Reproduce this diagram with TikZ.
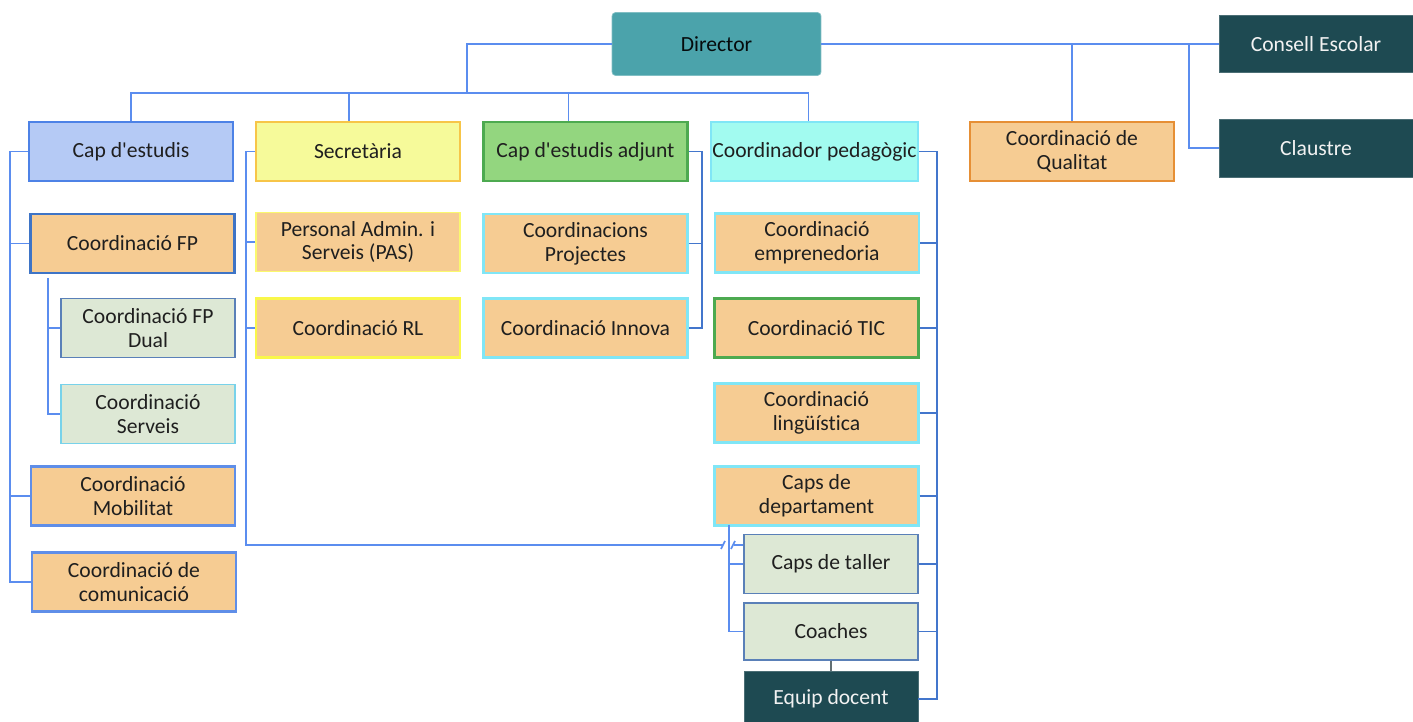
\documentclass[tikz,border=0pt]{standalone}
\usepackage{fontspec}
\setmainfont{Carlito}[Ligatures={TeX,NoCommon}]
\usepackage{xcolor}
\usetikzlibrary{calc}

\definecolor{linkblue}{HTML}{5B8DEF}
\definecolor{trunkblue}{HTML}{4376CC}
\definecolor{tealfill}{HTML}{4BA3AB}
\definecolor{darkteal}{HTML}{1E4A52}
\definecolor{capfill}{HTML}{B5CAF5}
\definecolor{capline}{HTML}{4D82E6}
\definecolor{secfill}{HTML}{F6FA9A}
\definecolor{secline}{HTML}{F7C548}
\definecolor{adjfill}{HTML}{93D67F}
\definecolor{adjline}{HTML}{4DAA50}
\definecolor{pedfill}{HTML}{A2FBF0}
\definecolor{pedline}{HTML}{80E6F6}
\definecolor{orfill}{HTML}{F6CC93}
\definecolor{orline}{HTML}{E68F35}
\definecolor{sagefill}{HTML}{DDE8D5}
\definecolor{sageline}{HTML}{5A80B8}
\definecolor{yelline}{HTML}{F9F74A}
\definecolor{fpline}{HTML}{3E74C6}

\begin{document}
\begin{tikzpicture}[x=0.02cm, y=-0.02cm,
  box/.style={draw, align=center, minimum width=4.08cm, minimum height=1.18cm,
    inner sep=1pt, line width=1.2pt, text=black!88,
    font=\fontsize{12.3}{13.6}\selectfont},
  subbox/.style={box, minimum width=3.48cm, line width=0.8pt},
  darkbox/.style={box, minimum width=3.88cm, minimum height=1.14cm,
    fill=darkteal, draw=darkteal!80!white, line width=0.4pt, text=white!90!gray},
  link/.style={draw=linkblue, line width=1pt},
  trunk/.style={draw=trunkblue, line width=1.1pt}]
% Define common parameters
\useasboundingbox (0,0) rectangle (1413,722);

% Top level
\node[box, minimum width=4.18cm, minimum height=1.26cm, fill=tealfill,
  draw=tealfill!70!white, line width=0.4pt, rounded corners=2pt,
  text=black!85!darkteal] (director) at (716.5,44) {Director};
\node[darkbox] (consell) at (1316,44) {Consell Escolar};
\node[darkbox, minimum height=1.16cm] (claustre) at (1316,148) {Claustre};

% Second level
\node[box, fill=capfill, draw=capline, line width=1.5pt] (capest) at (131,151.5) {Cap d\textquotesingle estudis};
\node[box, fill=secfill, draw=secline] (secret) at (358,151.5) {Secretària};
\node[box, fill=adjfill, draw=adjline] (capadj) at (585.5,151.5) {Cap d\textquotesingle estudis adjunt};
\node[box, fill=pedfill, draw=pedline] (coordped) at (814.5,151.5) {Coordinador pedagògic};
\node[box, fill=orfill, draw=orline] (qualitat) at (1072,151.5) {Coordinació de\\Qualitat};

% Cap d'estudis column
\node[box, fill=orfill, draw=fpline, line width=1.5pt] (coordfp) at (132.5,243.5) {Coordinació FP};
\node[subbox, fill=sagefill, draw=sageline] (fpdual) at (148,328) {Coordinació FP\\Dual};
\node[subbox, fill=sagefill, draw=pedline!80!sageline] (serveis) at (148,414) {Coordinació\\Serveis};
\node[box, fill=orfill, draw=capline!90!white, line width=1.5pt] (mobilitat) at (133,496) {Coordinació\\Mobilitat};
\node[box, fill=orfill, draw=capline!90!white, line width=1.5pt] (comunic) at (134,582) {Coordinació de\\comunicació};

% Secretaria column
\node[box, fill=orfill, draw=yelline!80!white, line width=0.9pt] (pas) at (358,242) {Personal Admin. i\\Serveis (PAS)};
\node[box, fill=orfill, draw=yelline, line width=1.6pt] (rl) at (358,328) {Coordinació RL};

% Cap d'estudis adjunt column
\node[box, fill=orfill, draw=pedline] (projectes) at (585.5,243.5) {Coordinacions\\Projectes};
\node[box, fill=orfill, draw=pedline] (innova) at (585.5,328) {Coordinació Innova};

% Coordinador pedagogic column
\node[box, fill=orfill, draw=pedline] (empren) at (817,243) {Coordinació\\emprenedoria};
\node[box, fill=orfill, draw=adjline] (tic) at (816.5,328) {Coordinació TIC};
\node[box, fill=orfill, draw=pedline] (ling) at (816.5,413) {Coordinació\\lingüística};
\node[box, fill=orfill, draw=pedline] (capsdep) at (816.5,496) {Caps de\\departament};
\node[subbox, fill=sagefill, draw=sageline] (capstaller) at (831,564) {Caps de taller};
\node[subbox, fill=sagefill, draw=sageline, minimum height=1.14cm] (coaches) at (831,631.5) {Coaches};
\node[darkbox, minimum width=3.48cm, minimum height=1.12cm] (equip) at (831,699) {Equip docent};

% Helper points
\coordinate (bus) at (467,93);
\coordinate (rbus) at (1189,44);
\coordinate (ltrunk) at (10,151.5);
\coordinate (fptrunk) at (48,278);
\coordinate (strunk) at (246,151.5);
\coordinate (atrunk) at (702,151.5);
\coordinate (ptrunk) at (937,151.5);
\coordinate (dtrunk) at (729,525);
\coordinate (jumpL) at (723,545);
\coordinate (jumpR) at (734,545);

% Director connectors
\draw[link] (director.west) -| (bus);
\draw[link] (capest.north) |- (bus);
\draw[link] ($(coordped.north)+(-6,0)$) |- (bus);
\draw[link] ($(secret.north)+(-9,0)$) -- ($(secret.north |- bus)+(-9,0)$);
\draw[link] ($(capadj.north)+(-17,0)$) -- ($(capadj.north |- bus)+(-17,0)$);
\draw[link] (director.east) -- (consell.west);
\draw[link] (qualitat.north) -- (qualitat.north |- director.east);
\draw[link] (claustre.west) -| (rbus);

% Cap d'estudis connectors
\draw[link] (capest.west) -- (ltrunk) |- (comunic.west);
\draw[link] (coordfp.west) -- (coordfp.west -| ltrunk);
\draw[link] (mobilitat.west) -- (mobilitat.west -| ltrunk);
\draw[link] (fptrunk) |- (serveis.west);
\draw[link] (fpdual.west) -- (fpdual.west -| fptrunk);

% Secretaria connectors
\draw[link] (secret.west) -- (strunk) |- (jumpL);
\draw[link] (jumpR) -- (capstaller.west |- jumpR);
\draw[link] ($(jumpL)+(-2,4)$) -- ++(4,-8);
\draw[link] ($(jumpR)+(-3,4)$) -- ++(4,-8);
\draw[link] (pas.west) -- (pas.west -| strunk);
\draw[link] (rl.west) -- (rl.west -| strunk);

% Cap d'estudis adjunt connectors
\draw[trunk] (capadj.east) -- (atrunk) |- (innova.east);
\draw[trunk] (projectes.east) -- (projectes.east -| atrunk);

% Coordinador pedagogic connectors
\draw[trunk] (coordped.east) -- (ptrunk) |- (equip.east);
\foreach \n in {empren, tic, ling, capsdep, capstaller, coaches}
  \draw[trunk] (\n.east) -- (\n.east -| ptrunk);

% Caps de departament connectors
\draw[link] (dtrunk) |- (coaches.west);
\draw[link] (capstaller.west) -- (capstaller.west -| dtrunk);
\draw[draw=gray!70!darkteal, line width=0.9pt] (coaches.south) -- (equip.north);

\end{tikzpicture}
\end{document}
